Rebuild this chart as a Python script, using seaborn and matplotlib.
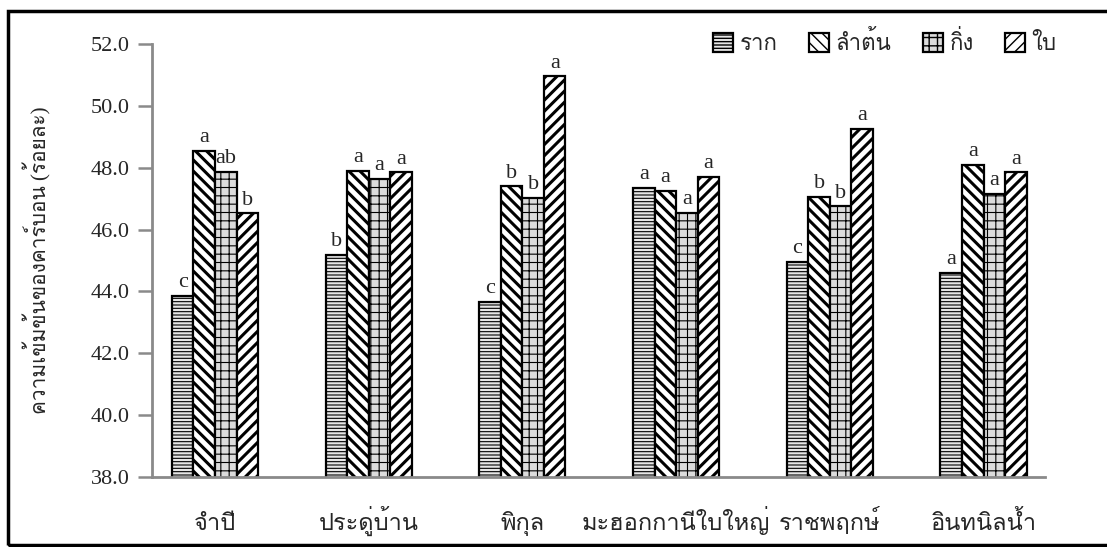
import numpy as np
import pandas as pd
import seaborn as sns
import matplotlib
matplotlib.use("Agg")
import matplotlib.pyplot as plt
from matplotlib import font_manager as fm
from matplotlib.ft2font import FT2Font
from matplotlib.patches import Rectangle

# data
species = ["จำปี", "ประดู่บ้าน", "พิกุล", "มะฮอกกานีใบใหญ่", "ราชพฤกษ์", "อินทนิลน้ำ"]
parts = ["ราก", "ลำต้น", "กิ่ง", "ใบ"]
root = [43.85, 45.18, 43.66, 47.35, 44.95, 44.60]
stem = [48.55, 47.90, 47.40, 47.25, 47.05, 48.10]
branch = [47.87, 47.65, 47.03, 46.55, 46.75, 47.15]
leaf = [46.52, 47.85, 50.95, 47.70, 49.25, 47.85]
letters_root = ["c", "b", "c", "a", "c", "a"]
letters_stem = ["a", "a", "b", "a", "b", "a"]
letters_branch = ["ab", "a", "b", "a", "b", "a"]
letters_leaf = ["b", "a", "a", "a", "a", "a"]
yticks = [38.0, 40.0, 42.0, 44.0, 46.0, 48.0, 50.0, 52.0]
ylabel = "ความเข้มข้นของคาร์บอน (ร้อยละ)"


def find_thai_font():
    found = []
    for f in fm.fontManager.ttflist:
        try:
            if 0x0E01 in FT2Font(f.fname).get_charmap():
                found.append(f.name)
        except Exception:
            pass
    return found


thai = find_thai_font()

sns.set_theme(style="white")
serif = "Liberation Serif"
# serif first for latin/digits, thai font picks up the Thai glyphs
plt.rcParams["font.family"] = [serif] + (thai[:1] if thai else []) + ["DejaVu Sans"]
plt.rcParams["hatch.color"] = "black"

df = pd.DataFrame({
    "species": np.repeat(species, 4),
    "part": parts * len(species),
    "value": np.ravel(np.column_stack([root, stem, branch, leaf])),
})

fig = plt.figure(figsize=(11.07, 5.47), dpi=100)
ax = fig.add_axes([152 / 1107, 1 - 477 / 547, (1045 - 152) / 1107, (477 - 44) / 547])

sns.barplot(data=df, x="species", y="value", hue="part", hue_order=parts,
            order=species, ax=ax, width=0.56, palette=["white"] * 4,
            edgecolor="black", linewidth=1.6, errorbar=None, saturation=1)

hatches = ["-----", "\\\\\\", "++", "///"]
hatch_lw = [0.8, 2.2, 0.8, 2.2]
faces = ["#e6e6e6", "white", "#dcdcdc", "white"]
all_letters = [letters_root, letters_stem, letters_branch, letters_leaf]
for cont, h, lw, fc, lets in zip(ax.containers, hatches, hatch_lw, faces, all_letters):
    for bar, lt in zip(cont, lets):
        bar.set_hatch(h)
        bar.set_facecolor(fc)
        bar._hatch_linewidth = lw
        ax.text(bar.get_x() + bar.get_width() / 2, bar.get_height() + 0.12, lt,
                ha="center", va="bottom", fontsize=16)

ax.set_ylim(38, 52)
ax.set_xlim(-0.41, 5.4)
ax.set_yticks(yticks)
ax.set_yticklabels([f"{v:.1f}" for v in yticks], fontsize=16)
ax.tick_params(axis="y", which="major", left=True, direction="out", length=10,
               width=1.8, color="#8a8a8a", pad=6)
ax.tick_params(axis="x", bottom=False, labelsize=17, pad=32)
for t in ax.get_xticklabels():
    t.set_verticalalignment("baseline")
ax.set_xlabel("")
ax.set_ylabel(ylabel, fontsize=15, labelpad=28)
for s in ["top", "right"]:
    ax.spines[s].set_visible(False)
for s in ["left", "bottom"]:
    ax.spines[s].set_color("#8a8a8a")
    ax.spines[s].set_linewidth(2)

handles, labels = ax.get_legend_handles_labels()
for hnd, h, fc in zip(handles, hatches, faces):
    hnd.set_hatch(h)
    hnd.set_facecolor(fc)
ax.legend(handles, parts, loc="upper right", ncol=4, frameon=False, fontsize=16,
          bbox_to_anchor=(1.013, 1.03), borderaxespad=0, borderpad=0,
          handlelength=0.9, handleheight=0.9, handletextpad=0.3, columnspacing=1.4)

fig.patches.append(Rectangle((8 / 1107, 2 / 547), 1.0, 1 - 13 / 547, transform=fig.transFigure,
                             fill=False, edgecolor="black", linewidth=2.5))

fig.savefig("out.png", dpi=100)
